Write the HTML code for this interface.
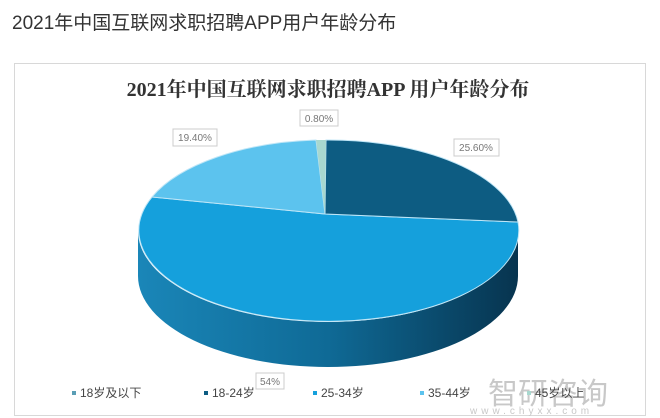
<!DOCTYPE html><html><head><meta charset="utf-8"><style>
body{margin:0;width:660px;height:418px;background:#fff;overflow:hidden;position:relative;font-family:"Liberation Sans","Noto Sans CJK SC",sans-serif}
.t{position:absolute;left:12px;top:8px;font-size:19px;color:#333}
.frame{position:absolute;left:14px;top:63px;width:630px;height:351px;border:1px solid #d8d8d8}
</style></head><body>
<div class="t">2021年中国互联网求职招聘APP用户年龄分布</div>
<div class="frame"></div>
<svg width="660" height="418" style="position:absolute;left:0;top:0">
<defs><linearGradient id="g" x1="0" x2="1"><stop offset="0" stop-color="#1a86b8"/><stop offset="0.5" stop-color="#0f6a96"/><stop offset="1" stop-color="#07344f"/></linearGradient></defs>
<text x="328" y="96" text-anchor="middle" font-family="Liberation Serif,Noto Serif CJK SC,serif" font-weight="bold" font-size="20" fill="#333">2021年中国互联网求职招聘APP  用户年龄分布</text>
<path d="M138,231 A190 91 0 0 0 518,231 L518,276 A190 91 0 0 1 138,276 Z" fill="url(#g)"/>
<path d="M325,214 L518,222 A190 91 0 1 1 152,197 Z" fill="#15a0dc" stroke="#bfe6f7" stroke-width="1"/>
<path d="M325,214 L326,140 A190 91 0 0 1 518,222 Z" fill="#0d5c82" stroke="#bfe6f7" stroke-width="1"/>
<path d="M325,214 L152,197 A190 91 0 0 1 316,140 Z" fill="#5cc3ee" stroke="#bfe6f7" stroke-width="1"/>
<path d="M325,214 L316,140 L326,140 Z" fill="#a8d8cf"/>
<g font-size="10" fill="#777" font-family="Liberation Sans,sans-serif">
<rect x="173" y="129" width="44" height="17" fill="#fff" stroke="#ccc"/><text x="195" y="141" text-anchor="middle">19.40%</text>
<rect x="454" y="139" width="45" height="17" fill="#fff" stroke="#ccc"/><text x="476" y="151" text-anchor="middle">25.60%</text>
<rect x="300" y="110" width="38" height="16" fill="#fff" stroke="#ccc"/><text x="319" y="122" text-anchor="middle">0.80%</text>
<rect x="256" y="373" width="28" height="16" fill="#fff" stroke="#ccc"/><text x="270" y="385" text-anchor="middle">54%</text>
</g>
<text x="488" y="404" font-size="30" fill="#c8c8c8" font-family="Noto Sans CJK SC,sans-serif">智研咨询</text>
<text x="470" y="414" font-size="10" fill="#c8c8c8" letter-spacing="4">www.chyxx.com</text>
<g font-size="12" fill="#444" font-family="Liberation Sans,Noto Sans CJK SC,sans-serif">
<rect x="72" y="391" width="4" height="4" fill="#5a9eb5"/><text x="80" y="397">18岁及以下</text>
<rect x="204" y="391" width="4" height="4" fill="#0d5c82"/><text x="212" y="397">18-24岁</text>
<rect x="313" y="391" width="4" height="4" fill="#15a0dc"/><text x="321" y="397">25-34岁</text>
<rect x="420" y="391" width="4" height="4" fill="#5cc3ee"/><text x="428" y="397">35-44岁</text>
<rect x="527" y="391" width="4" height="4" fill="#a8d8cf"/><text x="535" y="397">45岁以上</text>
</g>
</svg>
</body></html>
